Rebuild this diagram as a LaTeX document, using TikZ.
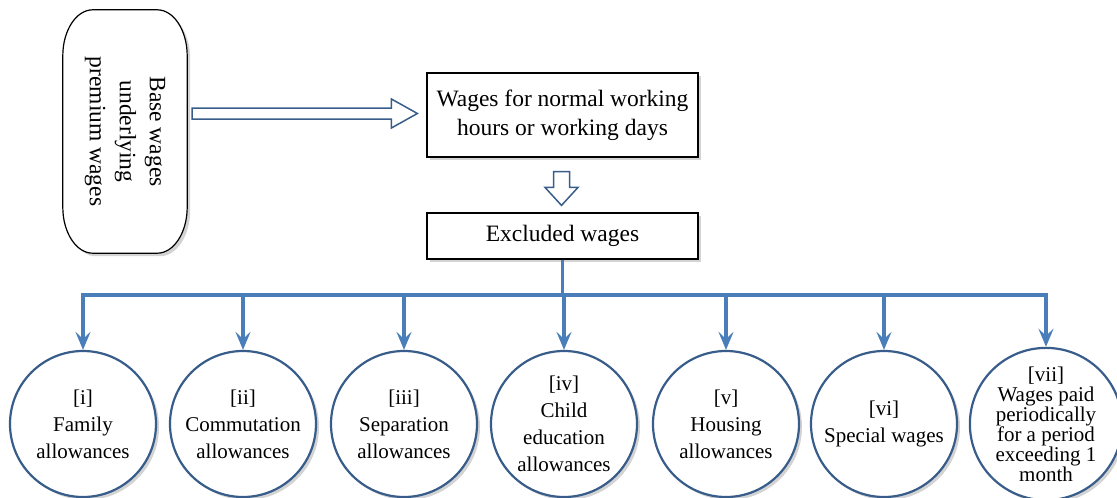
\documentclass[tikz,border=0pt]{standalone}
\usepackage{fontspec}
\setmainfont{Liberation Serif}
\usetikzlibrary{arrows.meta,shadows,calc}
\definecolor{lineblue}{RGB}{74,126,187}
\definecolor{edgeblue}{RGB}{56,93,138}
\begin{document}
\begin{tikzpicture}[x=1pt,y=-1pt,
  shadowed/.style={drop shadow={opacity=0.35,shadow xshift=3pt,shadow yshift=-3pt}},
  boxnode/.style={draw=black,line width=1.2pt,fill=white,shadowed,minimum width=271pt,align=center,font=\fontsize{23.5}{29}\selectfont,inner sep=0pt},
  circ/.style={circle,draw=edgeblue,line width=2.2pt,fill=white,shadowed,minimum size=146pt,inner sep=0pt,align=center,font=\fontsize{21}{27}\selectfont},
  bus/.style={draw=lineblue,line width=3.5pt},
  branch/.style={bus,-{Stealth[length=18pt,width=15pt,inset=7pt]}},
  hollow/.style={draw=edgeblue,line width=1.5pt,fill=white,line join=miter}
]
\useasboundingbox (0,0) rectangle (1117,498);

% stadium
\node[minimum width=124pt,minimum height=243pt,inner sep=0pt] (stad) at (125,131.5) {};
\draw[line width=1.2pt,fill=white,shadowed] let \p1=(stad.south west), \p2=(stad.north east) in
  (\x1,\y1+46pt) -- (\x1,\y2-46pt) arc[start angle=180,end angle=90,x radius=30pt,y radius=46pt]
  -- (\x2-30pt,\y2) arc[start angle=90,end angle=0,x radius=30pt,y radius=46pt]
  -- (\x2,\y1+46pt) arc[start angle=0,end angle=-90,x radius=30pt,y radius=46pt]
  -- (\x1+30pt,\y1) arc[start angle=270,end angle=180,x radius=30pt,y radius=46pt] -- cycle;
\node[rotate=-90,align=center,font=\fontsize{23.5}{30}\selectfont] (stadtxt) at (stad.center) {Base wages\\underlying\\premium wages};

% boxes
\node[boxnode,minimum height=84pt] (b1) at (562.5,115) {Wages for normal working\\hours or working days};
\node[boxnode,minimum height=46pt] (b2) at (562.5,236) {Excluded wages};

% hollow horizontal arrow
\draw[hollow] let \p1=(stad.east), \p2=(b1.west) in
  (\x1+5pt,\y2+7pt) -- (\x2-35pt,\y2+7pt) -- (\x2-35pt,\y2+16pt) -- (\x2-9pt,\y2+1.5pt)
  -- (\x2-35pt,\y2-13pt) -- (\x2-35pt,\y2-4pt) -- (\x1+5pt,\y2-4pt) -- cycle;

% hollow down arrow
\draw[hollow] let \p1=(b1.south), \p2=(b2.north) in
  (\x1-9pt,\y1-14pt) -- (\x1+7pt,\y1-14pt) -- (\x1+7pt,\y2+25pt) -- (\x1+15.5pt,\y2+25pt)
  -- (\x1-1pt,\y2+7pt) -- (\x1-17.5pt,\y2+25pt) -- (\x1-9pt,\y2+25pt) -- cycle;

% circles
\node[circ] (c1) at (83,424) {[i]\\Family\\allowances};
\node[circ] (c2) at (243,424) {[ii]\\Commutation\\allowances};
\node[circ] (c3) at (404,424) {[iii]\\Separation\\allowances};
\node[circ] (c4) at (564,424) {[iv]\\Child\\education\\allowances};
\node[circ] (c5) at (726,424) {[v]\\Housing\\allowances};
\node[circ] (c6) at (884,424) {[vi]\\Special wages};
\node[circ,font=\fontsize{21}{20}\selectfont] (c7) at (1046,424) {[vii]\\Wages paid\\periodically\\for a period\\exceeding 1\\month};

% bus
\coordinate (busy) at (0,295);
\draw[bus] (b2.south) -- (b2.south |- busy);
\draw[bus,line cap=rect] (c1 |- busy) -- (c7 |- busy);
\foreach \i in {1,...,7}{
  \draw[branch] (c\i |- busy) -- (c\i.north);
}
\end{tikzpicture}
\end{document}
